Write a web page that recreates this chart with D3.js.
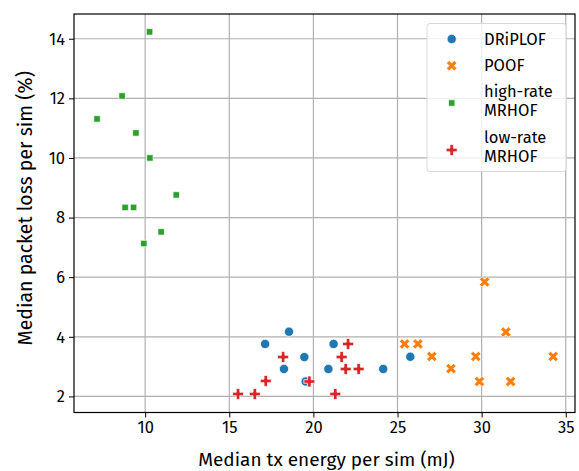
<!DOCTYPE html>
<html><head><meta charset="utf-8">
<script src="https://cdn.jsdelivr.net/npm/d3@7"></script>
<style>body{margin:0;background:#fff}svg{display:block;font-family:"Fira Sans","Noto Sans",sans-serif}</style>
</head><body><svg id="c" width="579" height="471"></svg>
<script>
const series = ["DRiPLOF","POOF","high-rate MRHOF","low-rate MRHOF"];
const colors = ["#1f77b4","#ff7f0e","#2ca02c","#d62728"];
const xTicks = [10,15,20,25,30,35];
const yTicks = [2,4,6,8,10,12,14];
const driplofX = [18.55,17.13,21.2,19.46,18.25,20.89,24.15,19.54,25.76];
const driplofY = [4.17,3.76,3.76,3.32,2.92,2.92,2.92,2.5,3.33];
const poofX = [25.42,26.21,30.18,31.44,27.04,29.65,34.25,28.18,29.87,31.72];
const poofY = [3.76,3.76,5.84,4.16,3.34,3.34,3.34,2.93,2.5,2.5];
const highX = [10.26,8.63,7.14,9.45,10.28,11.85,8.81,9.31,10.95,9.92];
const highY = [14.23,12.08,11.31,10.84,10.0,8.76,8.34,8.34,7.52,7.13];
const lowX = [15.52,16.52,17.17,18.2,19.76,21.3,22.06,21.68,21.92,22.69];
const lowY = [2.08,2.08,2.52,3.32,2.5,2.08,3.76,3.32,2.92,2.92];

const svg = d3.select("#c");
const L=74, R=575, T=14, B=412.5;
const x = d3.scaleLinear().domain([5.77,35.55]).range([L,R]);
const y = d3.scaleLinear().domain([1.46,14.83]).range([B,T]);

// grid
const g = svg.append("g");
g.selectAll(".gx").data(xTicks).join("line").attr("x1",d=>x(d)).attr("x2",d=>x(d)).attr("y1",T).attr("y2",B).attr("stroke","#b0b0b0").attr("stroke-width",1.2);
g.selectAll(".gy").data(yTicks).join("line").attr("y1",d=>y(d)).attr("y2",d=>y(d)).attr("x1",L).attr("x2",R).attr("stroke","#b0b0b0").attr("stroke-width",1.2);

function xPath(s){const a=s*0.5,w=s*0.25;return `M${-a},${-a+w}L${-a+w},${-a}L0,${-w}L${a-w},${-a}L${a},${-a+w}L${w},0L${a},${a-w}L${a-w},${a}L0,${w}L${-a+w},${a}L${-a},${a-w}L${-w},0Z`;}
function plusPath(s){const a=s*0.5,w=s*0.16;return `M${-w},${-a}H${w}V${-w}H${a}V${w}H${w}V${a}H${-w}V${w}H${-a}V${-w}H${-w}Z`;}
const pathFns = [
  ()=>d3.symbol().type(d3.symbolCircle).size(68)(),
  ()=>xPath(10.5),
  ()=>d3.symbol().type(d3.symbolSquare).size(42)(),
  ()=>plusPath(11)
];
const data = [];
[[driplofX,driplofY],[poofX,poofY],[highX,highY],[lowX,lowY]].forEach((s,i)=>{
  s[0].forEach((v,j)=>data.push({s:i,x:v,y:s[1][j]}));
});
const pts = svg.append("g");
pts.selectAll("path").data(data).join("path")
  .attr("transform",d=>`translate(${x(d.x)},${y(d.y)})`)
  .attr("d",d=>pathFns[d.s]())
  .attr("fill",d=>colors[d.s]).attr("stroke","#fff").attr("stroke-width",0.75);

// axes
const fs = 16.5;
const xa = svg.append("g").attr("transform",`translate(0,${B})`).call(d3.axisBottom(x).tickValues(xTicks).tickSize(5).tickPadding(4));
const ya = svg.append("g").attr("transform",`translate(${L},0)`).call(d3.axisLeft(y).tickValues(yTicks).tickSize(5).tickPadding(4));
[xa,ya].forEach(a=>{a.selectAll("text").attr("font-size",fs).attr("fill","#000");a.selectAll("line").attr("stroke","#000").attr("stroke-width",1);a.select(".domain").remove();a.attr("font-family",null).attr("font-size",null);});
svg.append("rect").attr("x",L).attr("y",T).attr("width",R-L).attr("height",B-T).attr("fill","none").attr("stroke","#000").attr("stroke-width",1.2);

svg.append("text").attr("x",(L+R)/2+2).attr("y",466).attr("text-anchor","middle").attr("font-size",19).text("Median tx energy per sim (mJ)");
svg.append("text").attr("transform",`translate(32,${(T+B)/2-5}) rotate(-90)`).attr("text-anchor","middle").attr("font-size",19.5).text("Median packet loss per sim (%)");

// legend
const lg = svg.append("g");
lg.append("rect").attr("x",427).attr("y",23.5).attr("width",139).attr("height",148).attr("rx",3).attr("fill","#fff").attr("fill-opacity",0.8).attr("stroke","#d8d8d8");
const entries = [
  {lines:["DRiPLOF"],my:39,ty:[39]},
  {lines:["POOF"],my:65.7,ty:[65.7]},
  {lines:["high-rate","MRHOF"],my:103,ty:[91,110]},
  {lines:["low-rate","MRHOF"],my:150,ty:[137.5,156.5]}
];
entries.forEach((e,i)=>{
  lg.append("path").attr("transform",`translate(451.7,${e.my})`).attr("d",pathFns[i]()).attr("fill",colors[i]).attr("stroke","#fff").attr("stroke-width",0.75);
  e.lines.forEach((t,k)=>lg.append("text").attr("x",484).attr("y",e.ty[k]).attr("dy","0.35em").attr("font-size",fs).text(t));
});
</script></body></html>
